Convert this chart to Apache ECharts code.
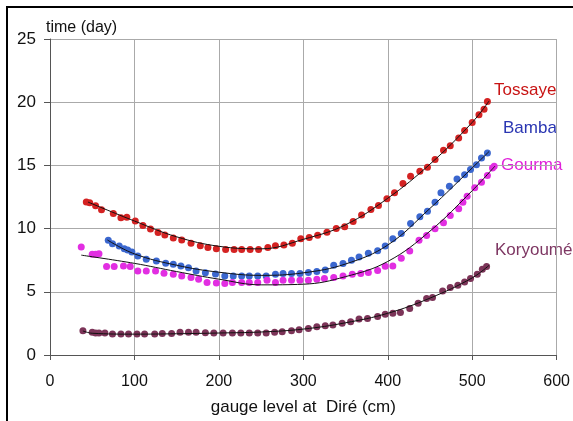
<!DOCTYPE html>
<html lang="en">
<head>
<meta charset="UTF-8">
<title>time vs gauge level at Diré</title>
<style type="text/css">
  html, body { margin: 0; padding: 0; background: #fff; }
  #chart { width: 573px; height: 421px; }
</style>
<script src="https://cdn.jsdelivr.net/npm/echarts@6/dist/echarts.min.js"></script>
</head>
<body>
<div id="chart"></div>
<script type="text/javascript">
// gauge level (cm) and travel time (day)
var tossayeX = [43,47,54,61,75,84,91,101,110,119,128,136,146,156,167,178,187,197,208,218,227,237,247,258,267,277,287,297,307,317,328,339,349,359,369,380,389,399,408,418,427,438,447,456,466,474,484,491,500,508,514,518];
var tossayeY = [12.1,12.05,11.8,11.5,11.2,10.85,10.9,10.6,10.25,9.97,9.7,9.5,9.25,9.1,8.85,8.65,8.5,8.4,8.35,8.35,8.35,8.35,8.35,8.5,8.65,8.7,8.85,9.2,9.3,9.47,9.72,10.0,10.15,10.57,11.07,11.51,11.83,12.36,12.83,13.56,14.14,14.53,14.85,15.46,16.19,16.56,17.17,17.77,18.4,19.0,19.45,20.05];

var bambaX = [69,74,82,88,92,97,104,114,126,137,146,155,164,173,184,196,207,217,227,236,246,256,267,276,286,296,306,316,326,336,347,357,366,377,388,397,406,416,427,438,447,456,463,473,482,491,498,505,511,518];
var bambaY = [9.07,8.81,8.62,8.41,8.3,8.14,7.83,7.57,7.44,7.26,7.18,7.05,6.9,6.65,6.5,6.4,6.25,6.25,6.25,6.25,6.25,6.25,6.39,6.44,6.44,6.44,6.52,6.6,6.73,7.1,7.23,7.49,7.75,8.04,8.25,8.62,9.2,9.62,10.41,10.94,11.38,12.09,12.83,13.35,13.93,14.27,14.67,15.06,15.59,15.98];

var gourmaX = [37,50,54,58,67,76,87,95,104,114,125,135,146,156,167,176,186,197,207,216,227,236,246,257,267,276,286,296,306,316,325,336,347,358,368,377,388,397,406,416,426,437,446,456,466,474,484,489,494,503,511,518,524,526];
var gourmaY = [8.54,7.97,7.97,8.02,7.0,7.0,7.05,7.0,6.65,6.65,6.65,6.47,6.39,6.25,6.13,6.0,5.73,5.7,5.65,5.73,5.73,5.73,5.73,5.91,5.73,5.91,5.91,5.91,5.91,5.99,6.05,6.13,6.25,6.39,6.44,6.52,6.68,7.02,7.04,7.65,8.22,9.07,9.46,9.99,10.46,11.04,11.57,12.09,12.56,13.23,13.67,14.2,14.8,14.93];

var koryoumeX = [39,50,54,58,65,74,84,93,103,112,124,133,144,154,164,173,184,194,205,216,226,236,246,256,266,275,286,295,306,316,326,335,346,356,366,376,388,397,406,415,426,436,446,453,465,474,483,491,498,506,512,517];
var koryoumeY = [1.92,1.79,1.74,1.74,1.74,1.66,1.66,1.66,1.66,1.66,1.66,1.71,1.71,1.79,1.79,1.79,1.76,1.74,1.74,1.74,1.74,1.74,1.74,1.74,1.79,1.84,1.92,2.0,2.1,2.23,2.31,2.37,2.52,2.63,2.84,2.89,3.05,3.23,3.31,3.37,3.68,4.1,4.47,4.55,5.07,5.34,5.52,5.78,6.05,6.39,6.78,7.0];

// trend lines (black)
var tossayeFitX = [45,100,150,200,250,300,350,400,450,500,520];
var tossayeFitY = [12.1,10.6,9.35,8.6,8.4,9.15,10.3,12.4,15.1,18.4,20.1];
var bambaFitX = [68,100,150,200,250,300,350,400,450,500,520];
var bambaFitY = [9.1,8.0,7.1,6.55,6.3,6.5,7.2,8.7,11.6,14.8,16.1];
var gourmaFitX = [37,100,150,200,250,300,350,400,450,500,527];
var gourmaFitY = [7.9,7.25,6.6,6.0,5.55,5.6,6.2,7.4,9.8,13.0,14.95];
var koryoumeFitX = [39,50,100,150,200,250,300,350,400,450,500,520];
var koryoumeFitY = [1.9,1.72,1.65,1.68,1.74,1.82,2.05,2.55,3.3,4.5,6.1,7.1];

var seriesNames = ['Tossaye', 'Bamba', 'Gourma', 'Koryoumé'];
var xTicks = [0, 100, 200, 300, 400, 500, 600];
var yTicks = [0, 5, 10, 15, 20, 25];

function pairs(xs, ys) {
    var out = [];
    for (var i = 0; i < xs.length; i++) out.push([xs[i], ys[i]]);
    return out;
}

var font = "'Liberation Sans', Arial, sans-serif";
var dotColors = ['#d42222', '#3b67cf', '#e22ee2', '#7c3458'];
var textColors = ['#c81414', '#2a36b2', '#e020da', '#7e3763'];

var pts = [
    pairs(tossayeX, tossayeY),
    pairs(bambaX, bambaY),
    pairs(gourmaX, gourmaY),
    pairs(koryoumeX, koryoumeY)
];
var fits = [
    pairs(tossayeFitX, tossayeFitY),
    pairs(bambaFitX, bambaFitY),
    pairs(gourmaFitX, gourmaFitY),
    pairs(koryoumeFitX, koryoumeFitY)
];

var series = [];
for (var i = 0; i < 4; i++) {
    series.push({
        name: seriesNames[i],
        type: 'scatter',
        symbolSize: 7,
        itemStyle: { color: dotColors[i], opacity: 1 },
        data: pts[i],
        z: 2
    });
}
for (var j = 0; j < 4; j++) {
    series.push({
        name: seriesNames[j] + ' fit',
        type: 'line',
        smooth: 0.4,
        showSymbol: false,
        lineStyle: { color: '#111', width: 1 },
        data: fits[j],
        z: 3
    });
}

// label positions next to the curves
var labelPos = [[494, 82], [503, 120], [501, 157], [495, 242]];
var graphics = [{
    type: 'polyline',
    shape: { points: [[7, 421], [7, 7], [573, 7]] },
    style: { stroke: '#000', lineWidth: 2, fill: null }
}];
for (var k = 0; k < 4; k++) {
    graphics.push({
        type: 'text',
        left: labelPos[k][0],
        top: labelPos[k][1],
        style: { text: seriesNames[k], fill: textColors[k], font: '17px ' + font }
    });
}

var myChart = echarts.init(document.getElementById('chart'), null, { renderer: 'canvas' });
var option = {
    animation: false,
    backgroundColor: '#fff',
    grid: { left: 50, right: 15, top: 39, bottom: 64 },
    xAxis: {
        type: 'value',
        min: xTicks[0],
        max: xTicks[xTicks.length - 1],
        interval: 100,
        name: 'gauge level at  Diré (cm)',
        nameLocation: 'middle',
        nameGap: 44,
        nameTextStyle: { fontSize: 17, color: '#111', fontFamily: font },
        axisLine: { lineStyle: { color: '#555', width: 1 } },
        axisTick: { show: true, length: 5, lineStyle: { color: '#555' } },
        axisLabel: { fontSize: 16, color: '#111', fontFamily: font, margin: 19 },
        splitLine: { show: true, lineStyle: { color: '#aaa', width: 1 } }
    },
    yAxis: {
        type: 'value',
        min: yTicks[0],
        max: yTicks[yTicks.length - 1],
        interval: 5,
        name: 'time (day)',
        nameLocation: 'end',
        nameGap: 3,
        nameTextStyle: { fontSize: 16, color: '#111', fontFamily: font, align: 'left', padding: [0, 0, 0, -4] },
        axisLine: { show: true, lineStyle: { color: '#555', width: 1 } },
        axisTick: { show: true, length: 6, lineStyle: { color: '#555' } },
        axisLabel: { fontSize: 17, color: '#111', fontFamily: font, margin: 14 },
        splitLine: { show: true, lineStyle: { color: '#aaa', width: 1 } }
    },
    graphic: graphics,
    series: series
};
myChart.setOption(option);
</script>
</body>
</html>
